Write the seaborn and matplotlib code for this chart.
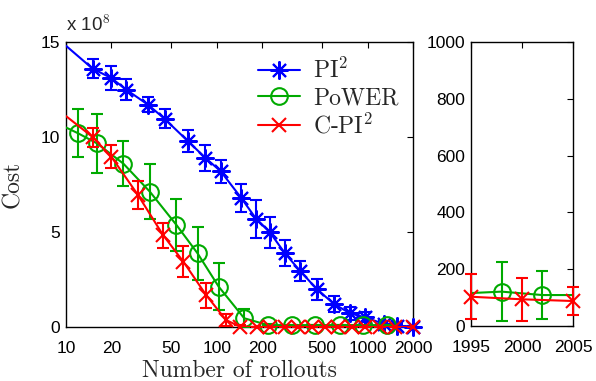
import matplotlib
matplotlib.use("Agg")
import matplotlib.pyplot as plt
import seaborn as sns
import numpy as np
import pandas as pd
from matplotlib.lines import Line2D
from matplotlib.ticker import FixedLocator, FixedFormatter, NullLocator

# ---------------- data (cost in units of 1e8) ----------------
pi2_x = [15, 20, 25, 35, 45, 64, 84, 106, 145, 182, 225, 283, 356, 462, 600, 764, 960, 1284, 1567, 2000]
pi2_y = [13.6, 13.1, 12.5, 11.7, 10.96, 9.8, 8.9, 8.2, 6.8, 5.7, 4.98, 3.88, 2.96, 1.98, 1.21, 0.72, 0.51, 0.16, 0.07, 0.02]
pi2_err = [0.5, 0.65, 0.53, 0.4, 0.5, 0.57, 0.7, 0.6, 0.75, 1.0, 0.83, 0.68, 0.53, 0.57, 0.44, 0.35, 0.26, 0.15, 0.1, 0.05]
pi2_start = 14.8

power_x = [12, 16, 24, 36, 54, 74.5, 103, 152, 219, 315, 448, 656, 932, 1345]
power_y = [10.2, 9.67, 8.6, 7.12, 5.37, 3.88, 2.12, 0.46, 0.1, 0.1, 0.1, 0.1, 0.1, 0.1]
power_err = [1.25, 1.55, 1.2, 1.45, 1.35, 1.4, 1.25, 0.5, 0.05, 0.0, 0.0, 0.0, 0.0, 0.0]
power_start = 10.5

cpi2_x = [15, 20, 30, 44, 60, 85, 115, 142, 185, 225, 283, 345, 428, 522, 636, 788, 961, 1209, 1520, 2000]
cpi2_y = [10.0, 8.96, 6.95, 4.84, 3.44, 1.68, 0.37, 0.02, 0, 0, 0, 0, 0, 0, 0, 0, 0, 0, 0, 0]
cpi2_err = [0.5, 0.6, 0.75, 0.66, 0.8, 0.66, 0.3, 0.1, 0, 0, 0, 0, 0, 0, 0, 0, 0, 0, 0, 0]
cpi2_start = 11.1

x_ticks = [10, 20, 50, 100, 200, 500, 1000, 2000]
y_ticks = [0, 5, 10, 15]

# right panel
r_cpi2_x = [1995, 2000, 2005]
r_cpi2_y = [103, 94, 88]
r_cpi2_err = [80, 75, 50]
r_power_x = [1998, 2002]
r_power_y = [121, 109]
r_power_err = [103, 83]
r_power_line_x = [1995, 1998, 2002, 2005]
r_power_line_y = [116, 121, 109, 109]
r_x_ticks = [1995, 2000, 2005]
r_y_ticks = [0, 200, 400, 600, 800, 1000]

labels = ["PI$^2$", "PoWER", "C-PI$^2$"]
BLUE, GREEN, RED = "#0000ff", "#00aa00", "#ff0000"

# ---------------- style ----------------
sns.set_theme(style="white")
plt.rcParams["font.family"] = ["Liberation Sans", "DejaVu Sans"]
plt.rcParams["mathtext.fontset"] = "cm"
plt.rcParams["axes.unicode_minus"] = False

fig = plt.figure(figsize=(5.96, 3.81), dpi=100)
ax1 = fig.add_axes([66 / 596, 1 - 327 / 381, 347 / 596, 285 / 381])
ax2 = fig.add_axes([471 / 596, 1 - 326 / 381, 102 / 596, 284 / 381])

AST = (8, 2, 0)
LW = 1.5
styles = [
    dict(color=BLUE, marker=AST, ms=13, mfc=BLUE),
    dict(color=GREEN, marker="o", ms=12, mfc="none"),
    dict(color=RED, marker="x", ms=10, mfc=RED),
]

series = [
    (pi2_x, pi2_y, pi2_err, pi2_start),
    (power_x, power_y, power_err, power_start),
    (cpi2_x, cpi2_y, cpi2_err, cpi2_start),
]

for i, ((xs, ys, es, y0), st) in enumerate(zip(series, styles)):
    lx = [10] + list(xs)
    ly = [y0] + list(ys)
    z = 3 + i
    sns.lineplot(x=lx, y=ly, ax=ax1, color=st["color"], lw=LW, sort=False,
                 estimator=None, zorder=z)
    ax1.errorbar(xs, ys, yerr=es, fmt="none", ecolor=st["color"], elinewidth=LW,
                 capsize=4.5, capthick=LW, zorder=z)
    sns.lineplot(x=xs, y=ys, ax=ax1, color=st["color"], linestyle="", marker=st["marker"],
                 ms=st["ms"], mfc=st["mfc"], mec=st["color"], mew=LW, sort=False,
                 estimator=None, zorder=z + 0.5, clip_on=False)

ax1.set_xscale("log")
ax1.set_xlim(10, 2000)
ax1.set_ylim(0, 15)
ax1.xaxis.set_major_locator(FixedLocator(x_ticks))
ax1.xaxis.set_major_formatter(FixedFormatter([str(t) for t in x_ticks]))
ax1.xaxis.set_minor_locator(NullLocator())
ax1.set_yticks(y_ticks)
ax1.set_yticklabels([str(t) for t in y_ticks])
ax1.text(0.0, 1.025, "x 10$^{8}$", transform=ax1.transAxes, fontsize=13.5,
         ha="left", va="bottom", family=["Liberation Sans", "DejaVu Sans"])

ax1.set_xlabel("Number of rollouts", fontsize=17, family="cmr10", labelpad=3)
ax1.set_ylabel("Cost", fontsize=17, family="cmr10", labelpad=12)

handles = [Line2D([0], [0], color=st["color"], lw=LW, marker=st["marker"], ms=st["ms"],
                  mfc=st["mfc"], mec=st["color"], mew=LW) for st in styles]
leg = ax1.legend(handles, labels, loc="upper left", bbox_to_anchor=(0.553, 0.945),
                 frameon=False, borderpad=0, borderaxespad=0, handlelength=1.8,
                 handletextpad=0.55, labelspacing=0.18,
                 prop={"family": "cmr10", "size": 17})

# right panel
sns.lineplot(x=r_power_line_x, y=r_power_line_y, ax=ax2, color=GREEN, lw=LW, sort=False,
             estimator=None, zorder=3)
ax2.errorbar(r_power_x, r_power_y, yerr=r_power_err, fmt="none", ecolor=GREEN,
             elinewidth=LW, capsize=4.5, capthick=LW, zorder=3)
sns.lineplot(x=r_power_x, y=r_power_y, ax=ax2, color=GREEN, linestyle="", marker="o",
             ms=12, mfc="none", mec=GREEN, mew=LW, estimator=None, zorder=3.5, clip_on=False)
sns.lineplot(x=r_cpi2_x, y=r_cpi2_y, ax=ax2, color=RED, lw=LW, sort=False,
             estimator=None, zorder=4)
ax2.errorbar(r_cpi2_x, r_cpi2_y, yerr=r_cpi2_err, fmt="none", ecolor=RED,
             elinewidth=LW, capsize=4.5, capthick=LW, zorder=4, clip_on=False)
sns.lineplot(x=r_cpi2_x, y=r_cpi2_y, ax=ax2, color=RED, linestyle="", marker="x",
             ms=10, mew=LW, mec=RED, estimator=None, zorder=4.5, clip_on=False)
ax2.set_xlim(1995, 2005)
ax2.set_ylim(0, 1000)
ax2.set_xticks(r_x_ticks)
ax2.set_xticklabels([str(t) for t in r_x_ticks])
ax2.set_yticks(r_y_ticks)
ax2.set_yticklabels([str(t) for t in r_y_ticks])

for ax in (ax1, ax2):
    ax.tick_params(direction="in", top=True, right=True, length=4, width=0.8,
                   labelsize=12.5, colors="black", pad=4)
    ax.tick_params(axis="x", pad=10)
    for sp in ax.spines.values():
        sp.set_color("black")
        sp.set_linewidth(1.0)
    ax.set_facecolor("white")

fig.savefig("out.png", dpi=100, facecolor="white")
